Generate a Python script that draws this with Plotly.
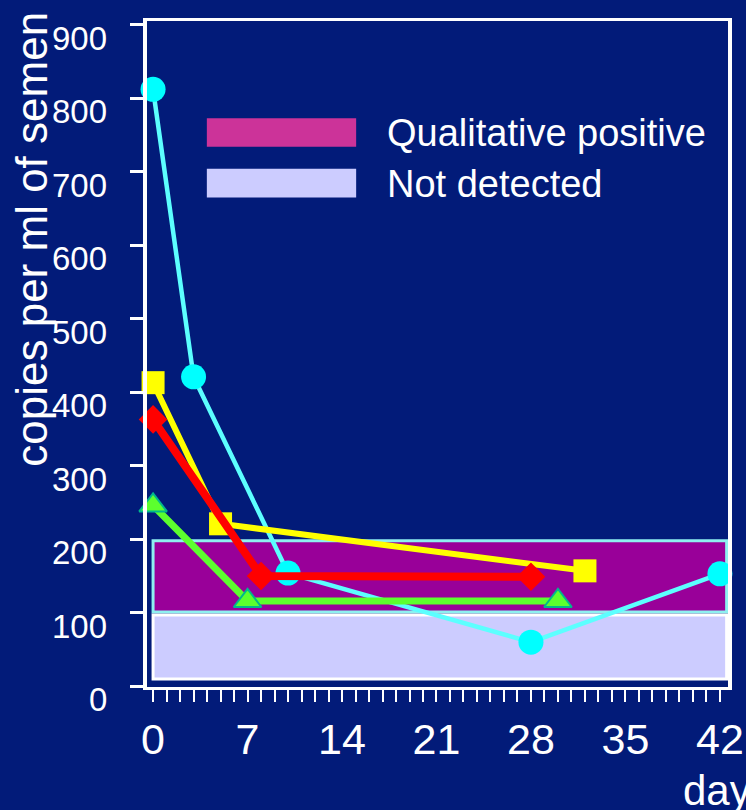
import plotly.graph_objects as go

# Data
days_cyan = [0, 3, 10, 28, 42]
copies_cyan = [812, 421, 154, 60, 153]

days_yellow = [0, 5, 32]
copies_yellow = [413, 221, 157]

days_red = [0, 8, 28]
copies_red = [363, 150, 149]

days_green = [0, 7, 30]
copies_green = [246, 116, 116]

band_names = ["Qualitative positive", "Not detected"]
band_low = [101, 10]
band_high = [198, 97]

x_ticks = [0, 7, 14, 21, 28, 35, 42]
y_ticks = [0, 100, 200, 300, 400, 500, 600, 700, 800, 900]

NAVY = "#021b79"
arial = "Liberation Sans, Arial, sans-serif"

fig = go.Figure()

# cyan series (circles)
fig.add_trace(go.Scatter(
    x=days_cyan, y=copies_cyan, mode="lines+markers",
    line=dict(color="#5cffff", width=4.5),
    marker=dict(color="#00ffff", size=25, symbol="circle"),
    cliponaxis=False, showlegend=False
))

# green series (triangles)
fig.add_trace(go.Scatter(
    x=days_green, y=copies_green, mode="lines+markers",
    line=dict(color="#5cff2e", width=7),
    marker=dict(color="#5cff2e", size=24, symbol="triangle-up", line=dict(color="#00b88c", width=2)),
    cliponaxis=False, showlegend=False
))

# yellow series (squares)
fig.add_trace(go.Scatter(
    x=days_yellow, y=copies_yellow, mode="lines+markers",
    line=dict(color="#ffff00", width=6),
    marker=dict(color="#ffff00", size=23, symbol="square"),
    cliponaxis=False, showlegend=False
))

# red series (diamonds)
fig.add_trace(go.Scatter(
    x=days_red, y=copies_red, mode="lines+markers",
    line=dict(color="#ff0000", width=8),
    marker=dict(color="#ff0000", size=22, symbol="diamond"),
    cliponaxis=False, showlegend=False
))

# bands behind the lines
band_fill = ["#990099", "#ccccff"]
band_edge = ["#8ef0f0", "#ffffff"]
for lo, hi, fc, ec in zip(band_low, band_high, band_fill, band_edge):
    fig.add_shape(type="rect", xref="x", yref="y", x0=0, x1=42.5, y0=lo, y1=hi,
                  fillcolor=fc, line=dict(color=ec, width=3), layer="below")

# legend drawn by hand
legend_swatch = ["#cc3399", "#ccccff"]
for i, (name, sw) in enumerate(zip(band_names, legend_swatch)):
    top = 0.854 - i * 0.076
    fig.add_shape(type="rect", xref="paper", yref="paper", x0=0.103, x1=0.36,
                  y0=top - 0.043, y1=top, fillcolor=sw, line=dict(width=0))
    fig.add_annotation(xref="paper", yref="paper", x=0.41, y=top - 0.022,
                       text=name, showarrow=False, xanchor="left", yanchor="middle",
                       font=dict(family=arial, size=38, color="white"))

# y tick labels sit just under their ticks
for v in y_ticks:
    fig.add_annotation(xref="paper", yref="y", x=-0.065, y=v, text=str(v),
                       showarrow=False, xanchor="right", yanchor="top", yshift=7,
                       font=dict(family=arial, size=33, color="white"))

# axis titles as annotations
fig.add_annotation(xref="paper", yref="paper", x=-0.198, y=0.673,
                   text="copies per ml of semen", textangle=-90, showarrow=False,
                   xanchor="center", yanchor="middle",
                   font=dict(family=arial, size=44, color="white"))
fig.add_annotation(xref="paper", yref="paper", x=0.919, y=-0.155,
                   text="days", showarrow=False, xanchor="left", yanchor="middle",
                   font=dict(family=arial, size=42, color="white"))

fig.update_layout(
    width=746, height=810,
    margin=dict(l=147, r=18, t=21, b=123),
    paper_bgcolor=NAVY, plot_bgcolor=NAVY,
    showlegend=False,
)

fig.update_xaxes(
    range=[-0.45, 42.6], tickvals=x_ticks, ticktext=[str(t) for t in x_ticks],
    showgrid=False, zeroline=False, automargin=False,
    showline=True, linecolor="white", linewidth=3, mirror=True,
    ticks="outside", ticklen=12, tickwidth=2, tickcolor="white",
    minor=dict(dtick=1, ticks="outside", ticklen=12, tickwidth=2, tickcolor="white"),
    tickfont=dict(family=arial, size=43, color="white"),
)

fig.update_yaxes(
    range=[-1, 905], tickvals=y_ticks, showticklabels=False,
    showgrid=False, zeroline=False, automargin=False,
    showline=True, linecolor="white", linewidth=4, mirror=True,
    ticks="outside", ticklen=13, tickwidth=3, tickcolor="white",
)

# drop the page's default body margin so the figure fills the window
fig.write_html("out.html", config={"displayModeBar": False},
               post_script="document.body.style.margin='0';")
